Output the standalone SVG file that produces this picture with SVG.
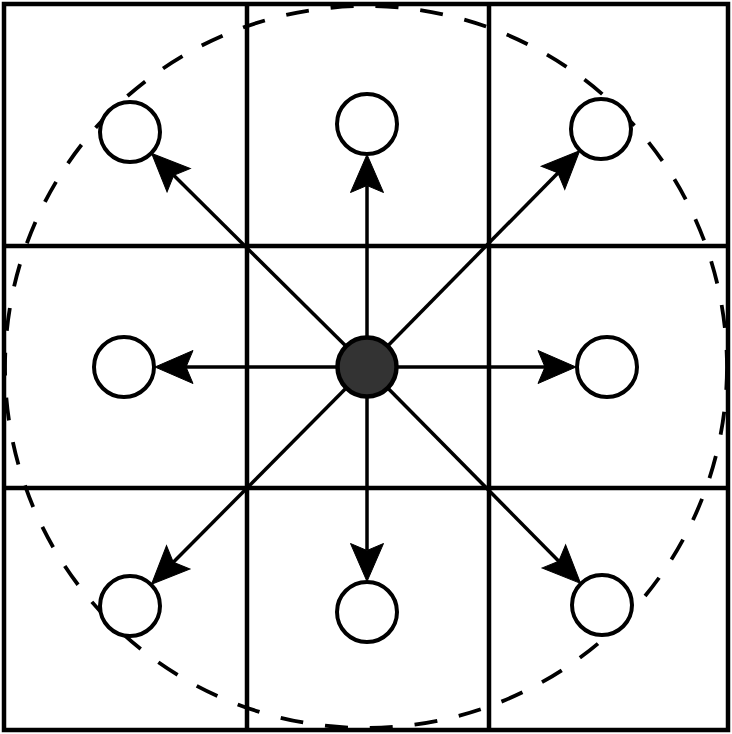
<svg xmlns="http://www.w3.org/2000/svg" width="732" height="734" viewBox="0 0 732 734">
  <style>
    .grid { stroke: #000; stroke-width: 4.5; fill: none; }
    .range { stroke: #000; stroke-width: 3.8; fill: none; stroke-dasharray: 23 22; }
    .edge { stroke: #000; stroke-width: 3.5; fill: none; marker-end: url(#arrow); }
    .nb { fill: #fff; stroke: #000; stroke-width: 4; }
    .ctr { fill: #333; stroke: #000; stroke-width: 4.5; }
  </style>
  <defs>
    <marker id="arrow" markerUnits="userSpaceOnUse" orient="auto" markerWidth="80" markerHeight="80" refX="0" refY="0" viewBox="-40 -40 80 80" overflow="visible">
      <path d="M31,0 L-7,-16.5 L0,0 L-7,16.5 Z" fill="#000" stroke="#000" stroke-width="1"/>
    </marker>
  </defs>
  <rect width="732" height="734" fill="#fff"/>
  <g id="grid" class="grid">
    <rect x="4" y="4" width="724" height="726"/>
    <line x1="247" y1="4" x2="247" y2="730"/>
    <line x1="489" y1="4" x2="489" y2="730"/>
    <line x1="4" y1="246" x2="728" y2="246"/>
    <line x1="4" y1="488" x2="728" y2="488"/>
  </g>
  <circle id="range" class="range" cx="366" cy="367" r="361"/>
  <g id="connectors">
    <path class="edge" d="M367,367 L367,185.5"/>
    <path class="edge" d="M367,367 L367,550.5"/>
    <path class="edge" d="M367,367 L186,367"/>
    <path class="edge" d="M367,367 L545,367"/>
    <path class="edge" d="M367,367 L173.7,175.3"/>
    <path class="edge" d="M367,367 L557.9,172.9"/>
    <path class="edge" d="M367,367 L173.3,562.3"/>
    <path class="edge" d="M367,367 L558.8,561.3"/>
  </g>
  <g id="n-tl"><circle class="nb" cx="130" cy="132" r="30"/></g>
  <g id="n-tm"><circle class="nb" cx="367" cy="124" r="30"/></g>
  <g id="n-tr"><circle class="nb" cx="601" cy="129" r="30"/></g>
  <g id="n-ml"><circle class="nb" cx="124" cy="367" r="30"/></g>
  <g id="n-mr"><circle class="nb" cx="607" cy="367" r="30"/></g>
  <g id="n-bl"><circle class="nb" cx="130" cy="606" r="30"/></g>
  <g id="n-bm"><circle class="nb" cx="367" cy="612" r="30"/></g>
  <g id="n-br"><circle class="nb" cx="602" cy="605" r="30"/></g>
  <g id="center"><circle class="ctr" cx="367" cy="367" r="29.5"/></g>
</svg>
